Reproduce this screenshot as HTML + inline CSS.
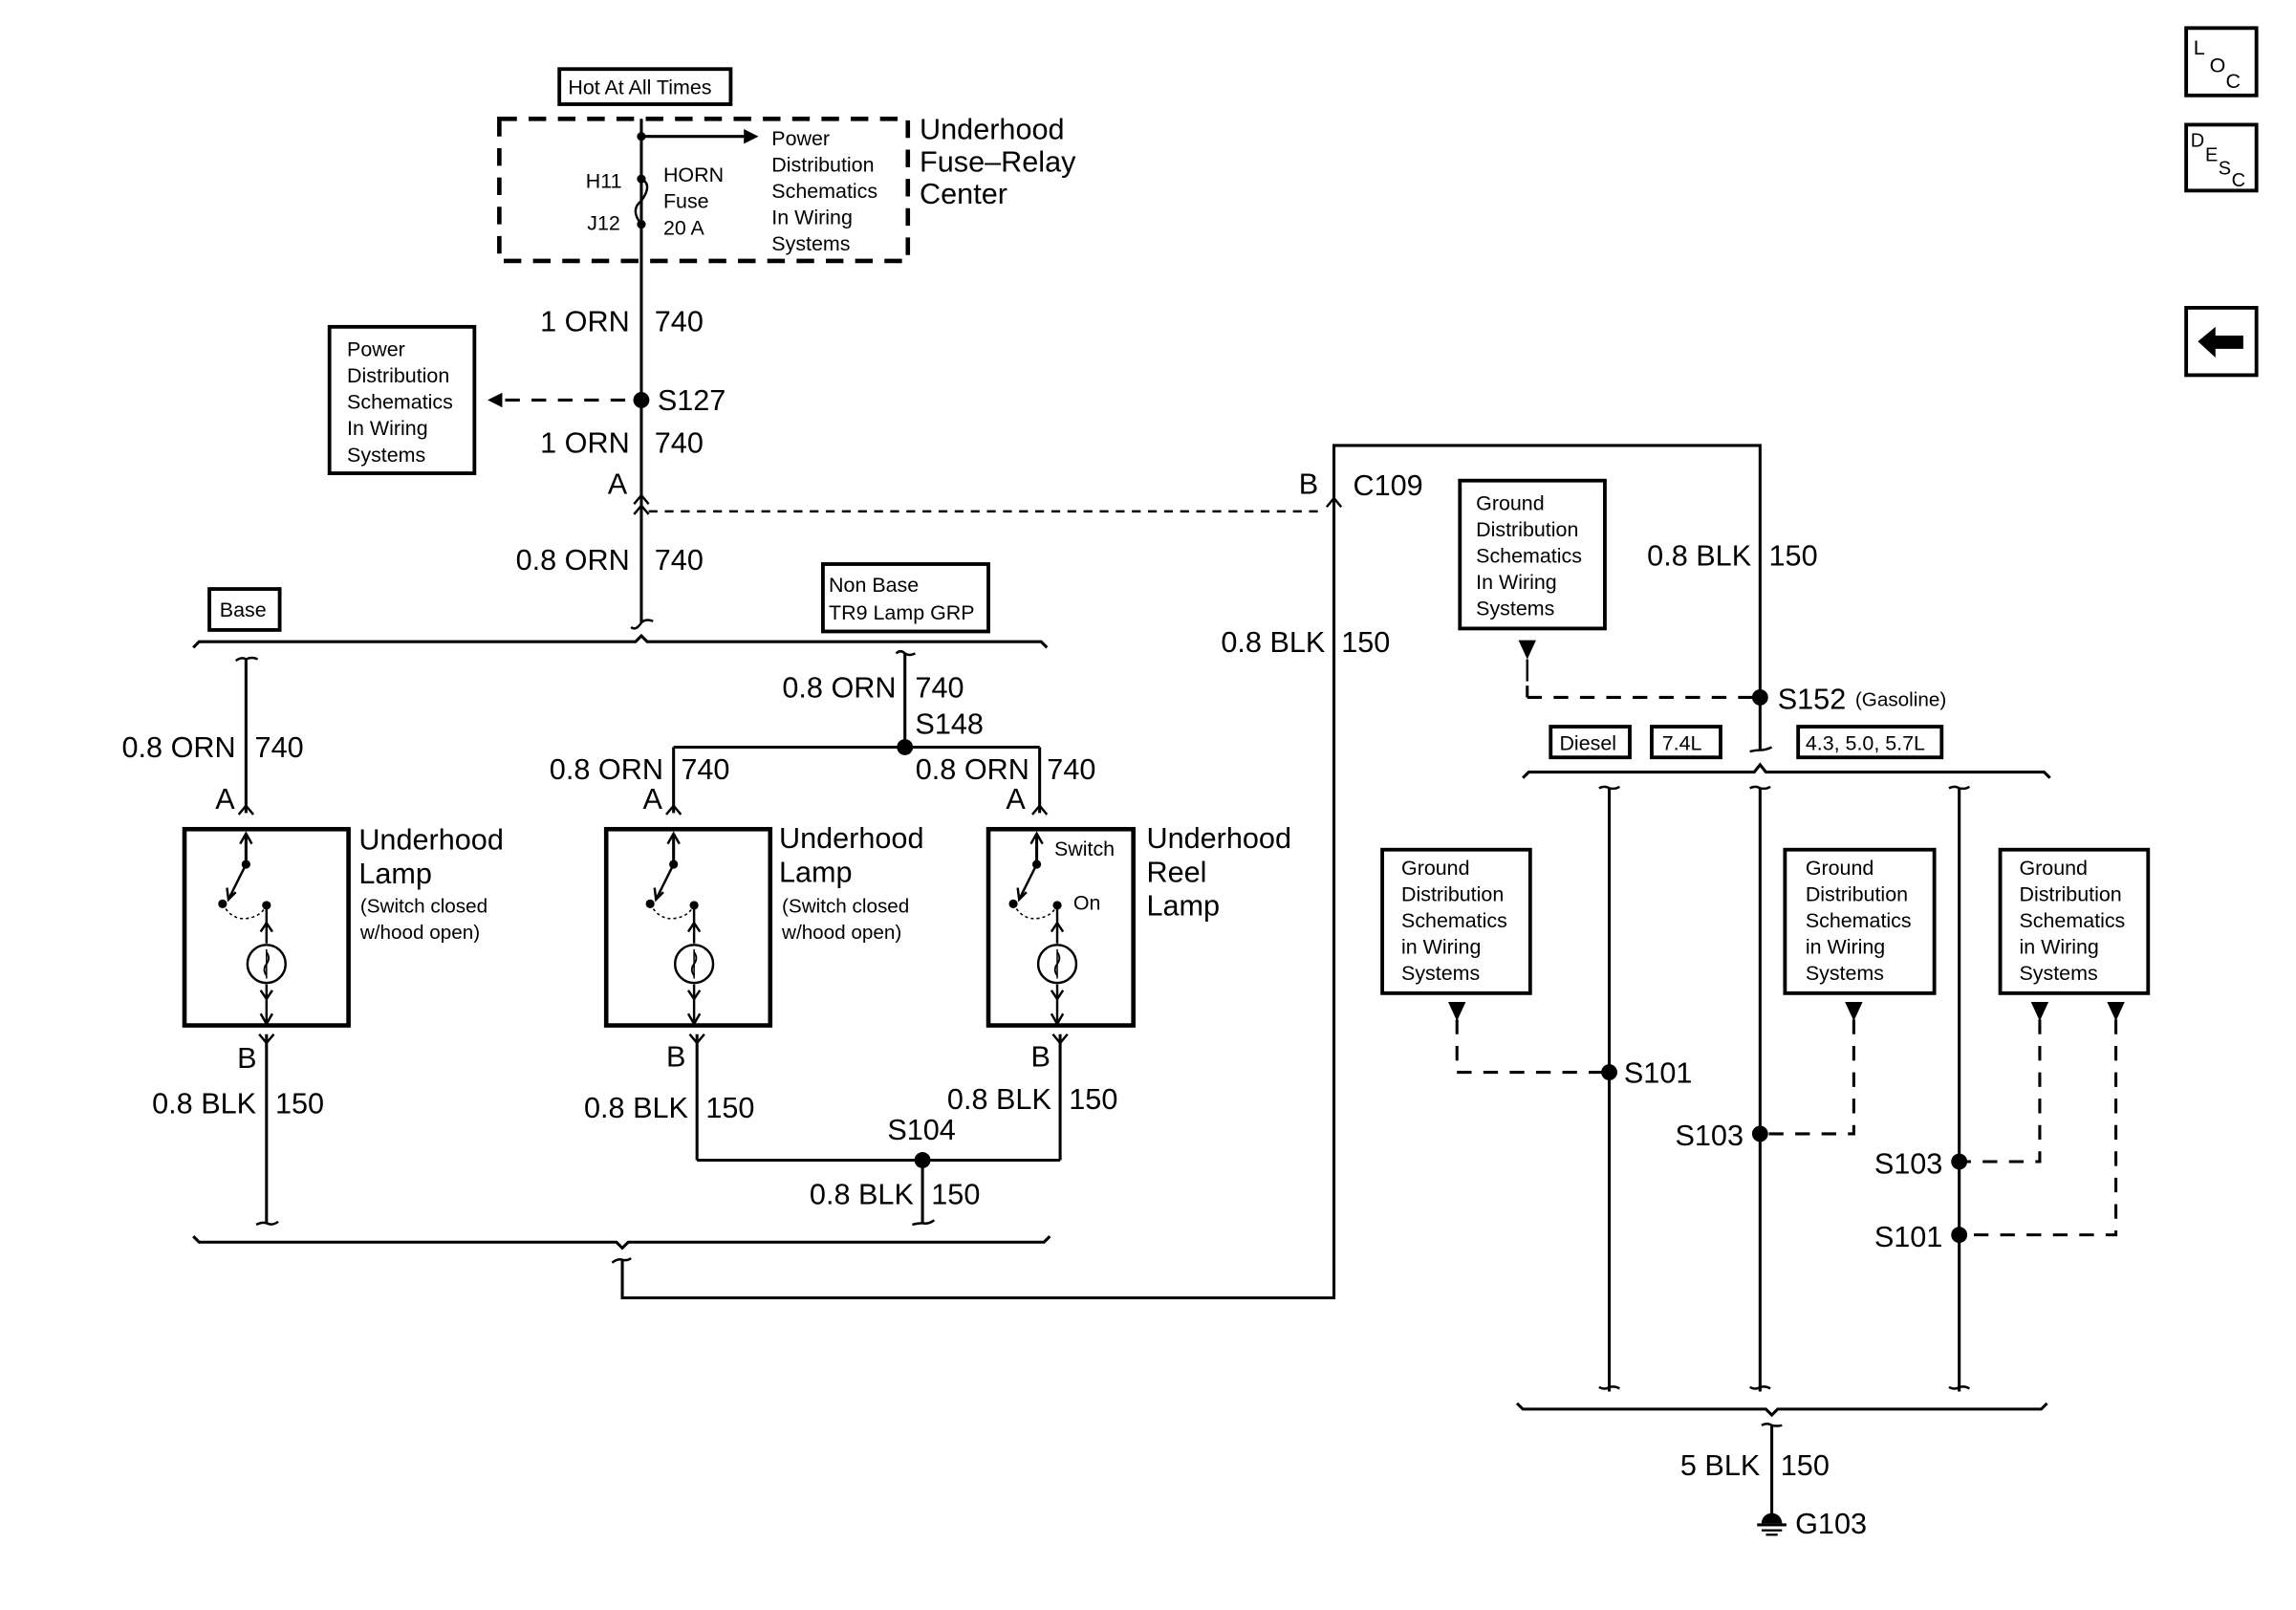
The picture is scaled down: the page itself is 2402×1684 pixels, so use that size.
<!DOCTYPE html>
<html><head><meta charset="utf-8"><style>
html,body{margin:0;padding:0;background:#fff}
svg{display:block}
text{font-family:"Liberation Sans",sans-serif;fill:#000}
.w{font-size:20px}
.b{font-size:14px}
.s{font-size:13.5px}
</style></head><body>
<svg width="2402" height="1684" viewBox="0 0 1568 1099" xmlns="http://www.w3.org/2000/svg">
<defs>
<g id="lamp">
  <line x1="42" y1="4" x2="42" y2="24" stroke="#000" stroke-width="2"/>
  <polyline points="38,10 42,3 46,10" fill="none" stroke="#000" stroke-width="1.6"/>
  <circle cx="42" cy="24" r="3"/>
  <line x1="42" y1="24" x2="30" y2="48" stroke="#000" stroke-width="1.6"/>
  <polyline points="29,40 30,48 35,43" fill="none" stroke="#000" stroke-width="1.6"/>
  <circle cx="26" cy="51" r="3"/>
  <circle cx="56" cy="52" r="3"/>
  <path d="M26,51 Q32,62 42,61 Q52,60 56,52" fill="none" stroke="#000" stroke-width="1" stroke-dasharray="2,2"/>
  <line x1="56" y1="52" x2="56" y2="78" stroke="#000" stroke-width="1.6"/>
  <polyline points="52,70 56,64 60,70" fill="none" stroke="#000" stroke-width="1.6"/>
  <ellipse cx="56" cy="92" rx="13" ry="13" fill="none" stroke="#000" stroke-width="1.6"/>
  <line x1="56" y1="82" x2="56" y2="102" stroke="#000" stroke-width="1"/>
  <path d="M56,84 q3,4 0,8 q-3,4 0,8" fill="none" stroke="#000" stroke-width="1.2"/>
  <line x1="56" y1="106" x2="56" y2="134" stroke="#000" stroke-width="1.6"/>
  <polyline points="52,110 56,116 60,110" fill="none" stroke="#000" stroke-width="1.6"/>
  <polyline points="52,126 56,133 60,126" fill="none" stroke="#000" stroke-width="1.6"/>
</g>
</defs>
<g stroke="#000" fill="none" stroke-width="2">
  <rect x="382" y="47" width="117" height="24" stroke-width="2.5"/>
  <rect x="341" y="81" width="279" height="97" stroke-width="3" stroke-dasharray="12,8"/>
  <line x1="438" y1="81" x2="438" y2="425"/>
  <line x1="438" y1="93" x2="508" y2="93"/>
  <path d="M438,122 q8,4 0,15 q-8,6 0,16" stroke-width="1.6"/>
  <line x1="345" y1="273" x2="438" y2="273" stroke-dasharray="10,8"/>
  <rect x="225" y="223" width="99" height="100" stroke-width="2.5"/>
  <polyline points="433,344 438,338 443,344" stroke-width="1.6"/>
  <polyline points="433,351 438,345 443,351" stroke-width="1.6"/>
  <line x1="443" y1="349" x2="905" y2="349" stroke-dasharray="6,5" stroke-width="1.6"/>
  <path d="M132,442 L136,438 L434,438 L438,434 L442,438 L711,438 L715,442"/>
  <path d="M431,428 q3,3 7,-3 q3,-3 8,-1" stroke-width="1.6"/>
  <rect x="143" y="402" width="48" height="28" stroke-width="2.5"/>
  <rect x="562" y="385" width="113" height="46" stroke-width="2.5"/>
  <path d="M161,451 q4,-3 7,-1 q4,-2 8,0" stroke-width="1.6"/>
  <line x1="168" y1="450" x2="168" y2="555"/>
  <polyline points="163,556 168,550 173,556" stroke-width="1.6"/>
  <rect x="126" y="566" width="112" height="134" stroke-width="3"/>
  <polyline points="177,706 182,712 187,706" stroke-width="1.6"/>
  <line x1="182" y1="706" x2="182" y2="835"/>
  <path d="M175,836 q4,-2 7,-1 q4,2 8,-1" stroke-width="1.6"/>
  <path d="M612,446 q3,-3 6,0 q3,2 7,0" stroke-width="1.6"/>
  <line x1="618" y1="446" x2="618" y2="510"/>
  <line x1="460" y1="510" x2="710" y2="510"/>
  <line x1="460" y1="510" x2="460" y2="555"/>
  <line x1="710" y1="510" x2="710" y2="555"/>
  <polyline points="455,556 460,550 465,556" stroke-width="1.6"/>
  <polyline points="705,556 710,550 715,556" stroke-width="1.6"/>
  <rect x="414" y="566" width="112" height="134" stroke-width="3"/>
  <rect x="675" y="566" width="99" height="134" stroke-width="3"/>
  <polyline points="471,706 476,712 481,706" stroke-width="1.6"/>
  <polyline points="719,706 724,712 729,706" stroke-width="1.6"/>
  <line x1="476" y1="706" x2="476" y2="792"/>
  <line x1="724" y1="706" x2="724" y2="792"/>
  <line x1="476" y1="792" x2="724" y2="792"/>
  <line x1="630" y1="792" x2="630" y2="835"/>
  <path d="M623,836 q4,-1 7,-1 q4,1 8,-2" stroke-width="1.6"/>
  <path d="M132,844 L136,848 L421,848 L425,852 L429,848 L713,848 L717,844"/>
  <path d="M418,862 q4,-3 7,-2 q3,1 6,-1" stroke-width="1.6"/>
  <polyline points="425,860 425,886 911,886 911,304 1202,304 1202,512"/>
  <polyline points="906,346 911,340 916,346" stroke-width="1.6"/>
  <rect x="997" y="328" width="99" height="101" stroke-width="2.5"/>
  <line x1="1043" y1="450" x2="1043" y2="465" stroke-width="1.6"/>
  <polyline points="1043,476 1202,476" stroke-dasharray="10,8"/>
  <line x1="1043" y1="468" x2="1043" y2="476"/>
  <path d="M1195,513 q4,-1 7,-1 q4,0 8,-2" stroke-width="1.6"/>
  <rect x="1059" y="496" width="54" height="21" stroke-width="2.5"/>
  <rect x="1128" y="496" width="47" height="21" stroke-width="2.5"/>
  <rect x="1228" y="496" width="98" height="21" stroke-width="2.5"/>
  <path d="M1040,531 L1044,527 L1198,527 L1202,522 L1206,527 L1396,527 L1400,531"/>
  <path d="M1092,538 q4,-2 7,0 q4,1 7,-1" stroke-width="1.6"/>
  <path d="M1195,538 q4,-2 7,0 q4,1 7,-1" stroke-width="1.6"/>
  <path d="M1331,538 q4,-2 7,0 q4,1 7,-1" stroke-width="1.6"/>
  <line x1="1099" y1="538" x2="1099" y2="950"/>
  <line x1="1202" y1="538" x2="1202" y2="950"/>
  <line x1="1338" y1="538" x2="1338" y2="950"/>
  <path d="M1092,947 q4,2 7,0 q4,-1 7,1" stroke-width="1.6"/>
  <path d="M1195,947 q4,2 7,0 q4,-1 7,1" stroke-width="1.6"/>
  <path d="M1331,947 q4,2 7,0 q4,-1 7,1" stroke-width="1.6"/>
  <rect x="944" y="580" width="101" height="98" stroke-width="2.5"/>
  <rect x="1219" y="580" width="102" height="98" stroke-width="2.5"/>
  <rect x="1366" y="580" width="101" height="98" stroke-width="2.5"/>
  <polyline points="995,696 995,732 1099,732" stroke-dasharray="10,8"/>
  <polyline points="1266,696 1266,774 1202,774" stroke-dasharray="10,8"/>
  <polyline points="1393,696 1393,793 1338,793" stroke-dasharray="10,8"/>
  <polyline points="1445,696 1445,843 1338,843" stroke-dasharray="10,8"/>
  <path d="M1036,958 L1040,962 L1206,962 L1210,966 L1214,962 L1394,962 L1398,958"/>
  <path d="M1203,973 q4,-2 7,0 q4,1 7,0" stroke-width="1.6"/>
  <line x1="1210" y1="973" x2="1210" y2="1036"/>
  <rect x="1493" y="19" width="48" height="46" stroke-width="2.5"/>
  <rect x="1493" y="85" width="48" height="45" stroke-width="2.5"/>
  <rect x="1493" y="210" width="48" height="46" stroke-width="2.5"/>
</g>
<g fill="#000">
  <circle cx="438" cy="93" r="3"/>
  <polygon points="508,88 518,93 508,98"/>
  <circle cx="438" cy="122" r="3"/>
  <circle cx="438" cy="153" r="3"/>
  <circle cx="438" cy="273" r="5.5"/>
  <polygon points="343,268 333,273 343,278"/>
  <circle cx="618" cy="510" r="5.5"/>
  <circle cx="630" cy="792" r="5.5"/>
  <polygon points="1037,437 1049,437 1043,450"/>
  <circle cx="1202" cy="476" r="5.5"/>
  <polygon points="989,684 1001,684 995,697"/>
  <polygon points="1260,684 1272,684 1266,697"/>
  <polygon points="1387,684 1399,684 1393,697"/>
  <polygon points="1439,684 1451,684 1445,697"/>
  <circle cx="1099" cy="732" r="5.5"/>
  <circle cx="1202" cy="774" r="5.5"/>
  <circle cx="1338" cy="793" r="5.5"/>
  <circle cx="1338" cy="843" r="5.5"/>
  <path d="M1203,1040 a7,7 0 0 1 14,0 z"/>
  <rect x="1200" y="1040" width="20" height="2"/>
  <rect x="1203" y="1044" width="14" height="1.5"/>
  <rect x="1206" y="1047" width="8" height="1.5"/>
  <polygon points="1501,233 1513,223 1513,229 1532,229 1532,238 1513,238 1513,244"/>
</g>
<use href="#lamp" x="126" y="566"/>
<use href="#lamp" x="418" y="566"/>
<use href="#lamp" x="666" y="566"/>
<text class="b" x="388" y="64">Hot At All Times</text>
<g class="b">
<text x="527" y="99">Power</text><text x="527" y="117">Distribution</text><text x="527" y="135">Schematics</text><text x="527" y="153">In Wiring</text><text x="527" y="171">Systems</text>
<text x="453" y="124">HORN</text><text x="453" y="142">Fuse</text><text x="453" y="160">20 A</text>
<text x="400" y="128">H11</text><text x="401" y="157">J12</text>
<text x="237" y="243">Power</text><text x="237" y="261">Distribution</text><text x="237" y="279">Schematics</text><text x="237" y="297">In Wiring</text><text x="237" y="315">Systems</text>
<text x="150" y="421">Base</text>
<text x="566" y="404">Non Base</text><text x="566" y="423">TR9 Lamp GRP</text>
<text x="720" y="584">Switch</text><text x="733" y="621">On</text>
<text x="1008" y="348">Ground</text><text x="1008" y="366">Distribution</text><text x="1008" y="384">Schematics</text><text x="1008" y="402">In Wiring</text><text x="1008" y="420">Systems</text>
<text x="1065" y="512">Diesel</text><text x="1135" y="512">7.4L</text><text x="1233" y="512">4.3, 5.0, 5.7L</text>
<text x="957" y="597">Ground</text><text x="957" y="615">Distribution</text><text x="957" y="633">Schematics</text><text x="957" y="651">in Wiring</text><text x="957" y="669">Systems</text>
<text x="1233" y="597">Ground</text><text x="1233" y="615">Distribution</text><text x="1233" y="633">Schematics</text><text x="1233" y="651">in Wiring</text><text x="1233" y="669">Systems</text>
<text x="1379" y="597">Ground</text><text x="1379" y="615">Distribution</text><text x="1379" y="633">Schematics</text><text x="1379" y="651">in Wiring</text><text x="1379" y="669">Systems</text>
</g>
<g class="s">
<text x="246" y="623">(Switch closed</text><text x="246" y="641">w/hood open)</text>
<text x="534" y="623">(Switch closed</text><text x="534" y="641">w/hood open)</text>
<text x="1267" y="482">(Gasoline)</text>
</g>
<g class="w">
<text x="628" y="95">Underhood</text><text x="628" y="117">Fuse–Relay</text><text x="628" y="139">Center</text>
<text x="430" y="226" text-anchor="end">1 ORN</text><text x="447" y="226">740</text>
<text x="449" y="280">S127</text>
<text x="430" y="309" text-anchor="end">1 ORN</text><text x="447" y="309">740</text>
<text x="415" y="337">A</text>
<text x="430" y="389" text-anchor="end">0.8 ORN</text><text x="447" y="389">740</text>
<text x="161" y="517" text-anchor="end">0.8 ORN</text><text x="174" y="517">740</text>
<text x="147" y="552">A</text>
<text x="245" y="580">Underhood</text><text x="245" y="603">Lamp</text>
<text x="175" y="760" text-anchor="end">0.8 BLK</text><text x="188" y="760">150</text>
<text x="162" y="729">B</text>
<text x="612" y="476" text-anchor="end">0.8 ORN</text><text x="625" y="476">740</text>
<text x="625" y="501">S148</text>
<text x="453" y="532" text-anchor="end">0.8 ORN</text><text x="465" y="532">740</text>
<text x="703" y="532" text-anchor="end">0.8 ORN</text><text x="715" y="532">740</text>
<text x="439" y="552">A</text><text x="687" y="552">A</text>
<text x="532" y="579">Underhood</text><text x="532" y="602">Lamp</text>
<text x="783" y="579">Underhood</text><text x="783" y="602">Reel</text><text x="783" y="625">Lamp</text>
<text x="455" y="728">B</text><text x="704" y="728">B</text>
<text x="470" y="763" text-anchor="end">0.8 BLK</text><text x="482" y="763">150</text>
<text x="718" y="757" text-anchor="end">0.8 BLK</text><text x="730" y="757">150</text>
<text x="606" y="778">S104</text>
<text x="624" y="822" text-anchor="end">0.8 BLK</text><text x="636" y="822">150</text>
<text x="887" y="337">B</text><text x="924" y="338">C109</text>
<text x="905" y="445" text-anchor="end">0.8 BLK</text><text x="916" y="445">150</text>
<text x="1196" y="386" text-anchor="end">0.8 BLK</text><text x="1208" y="386">150</text>
<text x="1214" y="484">S152</text>
<text x="1109" y="739">S101</text>
<text x="1144" y="782">S103</text>
<text x="1280" y="801">S103</text>
<text x="1280" y="851">S101</text>
<text x="1202" y="1007" text-anchor="end">5 BLK</text><text x="1216" y="1007">150</text>
<text x="1226" y="1047">G103</text>
<text x="1498" y="37" style="font-size:14px">L</text><text x="1509" y="49" style="font-size:14px">O</text><text x="1520" y="60" style="font-size:14px">C</text>
<text x="1496" y="100" style="font-size:13px">D</text><text x="1506" y="110" style="font-size:13px">E</text><text x="1515" y="119" style="font-size:13px">S</text><text x="1524" y="127" style="font-size:13px">C</text>
</g>
</svg>
</body></html>
